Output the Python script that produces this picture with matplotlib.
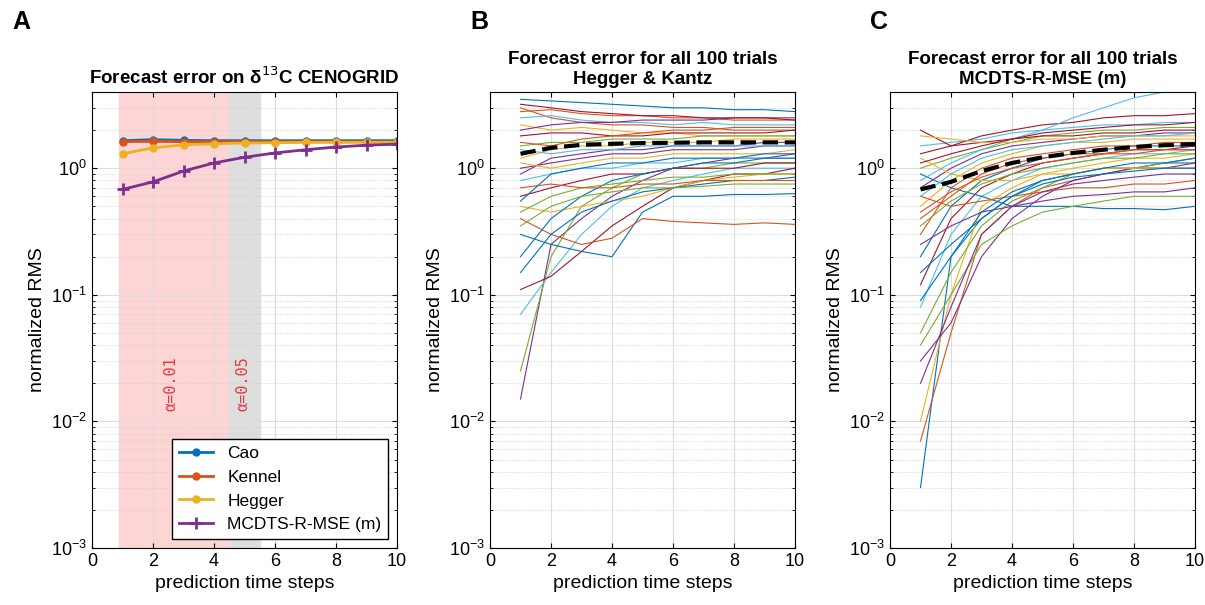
import numpy as np
import matplotlib
matplotlib.use("Agg")
import matplotlib.pyplot as plt

t = np.arange(1, 11)
cao = [1.65, 1.68, 1.66, 1.65, 1.65, 1.65, 1.65, 1.65, 1.65, 1.65]
kennel = [1.62, 1.63, 1.62, 1.62, 1.62, 1.62, 1.62, 1.62, 1.62, 1.62]
hegger = [1.3, 1.45, 1.53, 1.56, 1.58, 1.59, 1.6, 1.6, 1.6, 1.6]
mcdts = [0.68, 0.78, 0.95, 1.1, 1.22, 1.32, 1.4, 1.47, 1.52, 1.55]

trials_hk = [
[3.5,3.4,3.3,3.2,3.1,3.0,3.0,2.9,2.9,2.8],
[2.8,2.9,2.7,2.6,2.6,2.5,2.5,2.4,2.4,2.4],
[2.2,2.0,2.1,2.0,1.9,1.9,1.8,1.8,1.8,1.8],
[0.015,0.25,0.4,0.6,0.8,1.0,1.1,1.2,1.2,1.3],
[0.025,0.2,0.5,0.7,0.9,1.0,1.0,1.1,1.1,1.1],
[0.07,0.15,0.3,0.5,0.7,0.8,0.9,1.0,1.0,1.0],
[0.11,0.14,0.22,0.35,0.5,0.7,0.8,0.9,0.9,1.0],
[0.3,0.25,0.22,0.2,0.45,0.6,0.6,0.62,0.62,0.63],
[0.4,0.3,0.25,0.28,0.4,0.38,0.37,0.36,0.37,0.36],
[0.5,0.45,0.5,0.55,0.6,0.7,0.8,0.85,0.9,0.9],
[1.0,1.1,1.2,1.3,1.3,1.4,1.4,1.4,1.5,1.5],
[1.5,1.6,1.6,1.7,1.7,1.7,1.8,1.8,1.8,1.8],
[0.8,0.9,1.0,1.0,1.1,1.1,1.2,1.2,1.2,1.2],
[0.6,0.7,0.8,0.9,0.9,1.0,1.0,1.0,1.1,1.1],
[0.2,0.4,0.6,0.8,0.9,1.0,1.1,1.1,1.2,1.2],
[3.0,2.5,2.3,2.2,2.2,2.1,2.1,2.0,2.0,2.0],
[1.2,1.4,1.5,1.5,1.6,1.6,1.6,1.7,1.7,1.7],
[0.9,1.2,1.3,1.4,1.4,1.5,1.5,1.5,1.6,1.6],
[0.45,0.6,0.7,0.75,0.8,0.85,0.85,0.9,0.9,0.9],
[2.5,2.6,2.4,2.3,2.3,2.2,2.3,2.2,2.2,2.2],
[1.8,1.9,1.9,1.8,1.8,1.9,1.9,1.9,1.9,2.0],
[0.15,0.3,0.45,0.55,0.65,0.7,0.75,0.8,0.8,0.85],
[0.7,0.75,0.7,0.7,0.75,0.75,0.8,0.8,0.8,0.8],
[1.1,1.0,1.1,1.2,1.2,1.3,1.3,1.3,1.3,1.4],
[2.0,2.2,2.3,2.3,2.4,2.4,2.4,2.5,2.5,2.5],
[0.35,0.5,0.6,0.65,0.7,0.7,0.72,0.75,0.75,0.75],
[1.4,1.3,1.4,1.4,1.5,1.5,1.5,1.5,1.5,1.5],
[3.2,3.0,2.8,2.7,2.6,2.6,2.5,2.5,2.5,2.4],
[0.55,0.9,1.0,1.1,1.1,1.2,1.2,1.2,1.3,1.3],
[1.6,1.5,1.7,1.8,1.9,2.0,2.0,2.1,2.1,2.1],
]
trials_mc = [
[0.003,0.2,0.4,0.6,0.8,0.9,1.0,1.0,1.1,1.1],
[0.007,0.05,0.3,0.5,0.7,0.8,0.9,1.0,1.0,1.0],
[0.01,0.1,0.5,0.7,0.9,1.0,1.1,1.2,1.2,1.3],
[0.03,0.06,0.2,0.4,0.6,0.8,0.9,1.0,1.0,1.1],
[0.05,0.15,0.35,0.55,0.7,0.9,1.0,1.0,1.1,1.2],
[0.08,0.3,0.6,0.8,1.0,1.1,1.2,1.3,1.3,1.4],
[0.12,0.4,0.7,0.9,1.1,1.2,1.3,1.4,1.4,1.5],
[0.2,0.5,0.8,1.0,1.2,1.3,1.4,1.5,1.5,1.5],
[0.3,0.7,1.0,1.2,1.3,1.4,1.5,1.5,1.6,1.6],
[0.5,0.8,1.1,1.3,1.5,1.6,1.6,1.7,1.7,1.7],
[0.7,1.0,1.3,1.5,1.6,1.7,1.8,1.8,1.9,1.9],
[1.0,1.2,1.4,1.6,1.8,1.9,2.0,2.0,2.1,2.1],
[1.5,1.6,1.7,1.9,2.0,2.1,2.2,2.2,2.3,2.3],
[2.0,1.5,1.8,2.0,2.2,2.3,2.5,2.6,2.6,2.7],
[0.9,0.7,0.6,0.5,0.5,0.5,0.48,0.48,0.47,0.5],
[0.6,0.5,0.55,0.6,0.65,0.7,0.7,0.75,0.75,0.8],
[1.2,0.9,0.8,0.8,0.9,0.9,1.0,1.0,1.0,1.0],
[0.25,0.35,0.45,0.5,0.55,0.6,0.62,0.65,0.65,0.7],
[0.04,0.1,0.25,0.35,0.45,0.5,0.55,0.6,0.6,0.6],
[0.8,1.1,1.4,1.7,2.0,2.5,3.0,3.6,4.0,4.2],
[1.3,1.5,1.6,1.7,1.8,1.8,1.9,1.9,2.0,2.0],
[0.15,0.25,0.4,0.6,0.75,0.85,0.9,0.95,1.0,1.0],
[0.4,0.6,0.9,1.1,1.2,1.3,1.3,1.4,1.4,1.4],
[1.8,1.7,1.6,1.6,1.7,1.7,1.8,1.8,1.8,1.8],
[0.02,0.08,0.3,0.5,0.65,0.75,0.8,0.85,0.9,0.9],
[0.35,0.55,0.75,0.9,1.0,1.1,1.2,1.2,1.3,1.3],
[0.6,0.9,1.2,1.4,1.5,1.6,1.7,1.8,1.8,1.9],
[1.1,1.3,1.5,1.7,1.9,2.0,2.1,2.2,2.2,2.3],
[0.09,0.2,0.45,0.65,0.8,0.9,1.0,1.1,1.1,1.2],
[0.45,0.65,0.85,1.0,1.1,1.2,1.3,1.3,1.4,1.4],
]

mcol = ['#0072BD', '#D95319', '#EDB120', '#7E2F8E', '#77AC30', '#4DBEEE', '#A2142F']

plt.rcParams['font.family'] = ['Liberation Sans', 'DejaVu Sans']
fig = plt.figure(figsize=(12.05, 6.05), dpi=100)
W, H = 1205, 605
def mk(x0, x1):
    return fig.add_axes([x0 / W, 1 - 548 / H, (x1 - x0) / W, (548 - 92) / H])
axes = [mk(92, 397), mk(490, 795), mk(890, 1195)]

for ax in axes:
    ax.set_yscale('log')
    ax.set_xlim(0, 10)
    ax.set_ylim(1e-3, 4)
    ax.set_xticks([0, 2, 4, 6, 8, 10])
    ax.grid(True, which='major', color='#dddddd', lw=0.8)
    ax.grid(True, which='minor', axis='y', color='#cccccc', lw=0.6, ls=':')
    ax.tick_params(direction='in', which='both', top=True, right=True, labelsize=13)
    ax.set_xlabel('prediction time steps', fontsize=14)
    ax.set_ylabel('normalized RMS', fontsize=14)
    ax.set_axisbelow(True)

a = axes[0]
a.axvspan(0.9, 4.5, color='#fdd5d5', zorder=0)
a.axvspan(4.5, 5.5, color='#dedede', zorder=0)
a.text(2.6, 0.02, 'α=0.01', rotation=90, color='#e8383d', family='DejaVu Sans Mono', fontsize=11, ha='center', va='center')
a.text(4.95, 0.02, 'α=0.05', rotation=90, color='#e8383d', family='DejaVu Sans Mono', fontsize=11, ha='center', va='center')
a.plot(t, cao, color=mcol[0], marker='o', ms=5, lw=2, label='Cao')
a.plot(t, kennel, color=mcol[1], marker='o', ms=5, lw=2, label='Kennel')
a.plot(t, hegger, color=mcol[2], marker='o', ms=5, lw=2, label='Hegger')
a.plot(t, mcdts, color=mcol[3], marker='+', ms=8, mew=2, lw=2, label='MCDTS-R-MSE (m)')
leg = a.legend(loc='lower right', fontsize=12.5, fancybox=False, edgecolor='black', framealpha=1)
a.set_title('Forecast error on δ$^{13}$C CENOGRID', fontsize=13.5, fontweight='bold')

for ax, tr, mean, title in [(axes[1], trials_hk, hegger, 'Forecast error for all 100 trials\nHegger & Kantz'),
                            (axes[2], trials_mc, mcdts, 'Forecast error for all 100 trials\nMCDTS-R-MSE (m)')]:
    for i, y in enumerate(tr):
        ax.plot(t, y, color=mcol[i % 7], lw=0.8)
    ax.plot(t, mean, color='black', ls='--', lw=3)
    ax.set_title(title, fontsize=13.5, fontweight='bold')

for lab, x in [('A', 12), ('B', 470), ('C', 870)]:
    fig.text(x / W, 1 - 22 / H, lab, fontsize=18, fontweight='bold', va='center')

fig.savefig('out.png', dpi=100)
